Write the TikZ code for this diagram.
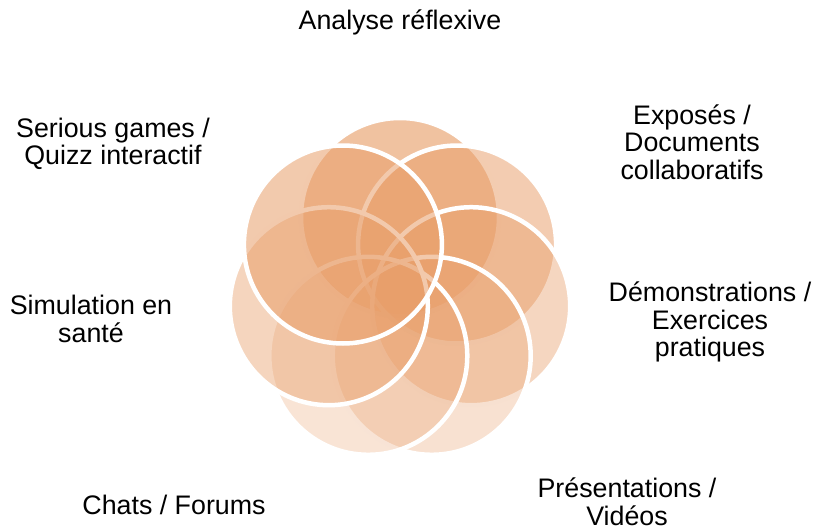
\documentclass[tikz,border=0pt]{standalone}
\usepackage{fontspec}
\setmainfont{Liberation Sans}
\definecolor{petal}{RGB}{232,158,105}

\begin{document}
\begin{tikzpicture}[x=1pt,y=-1pt,
	petal/.style={fill=petal,draw=white,line width=4.5pt},
	lbl/.style={align=center,font=\fontsize{26.8}{27.5}\selectfont}]
	\useasboundingbox (0,0) rectangle (815,530);
	% seven overlapping circles, clockwise from the top
	\path[petal,fill opacity=0.63] (400,217) circle[radius=99pt];
	\path[petal,fill opacity=0.52] (457.1,244.5) circle[radius=99pt];
	\path[petal,fill opacity=0.42] (471.2,306.2) circle[radius=99pt];
	\path[petal,fill opacity=0.31] (431.7,355.8) circle[radius=99pt];
	\path[petal,fill opacity=0.28] (368.3,355.8) circle[radius=99pt];
	\path[petal,fill opacity=0.43] (328.8,306.2) circle[radius=99pt];
	\path[petal,fill opacity=0.55] (342.9,244.5) circle[radius=99pt];
	% labels
	\node[lbl] (analyse) at (400,22) {Analyse réflexive};
	\node[lbl] (exposes) at (692,142) {Exposés /\\Documents\\collaboratifs};
	\node[lbl] (demos) at (710,322) {Démonstrations /\\Exercices\\pratiques};
	\node[lbl] (presentations) at (627,502) {Présentations /\\Vidéos};
	\node[lbl] (chats) at (174,505) {Chats / Forums};
	\node[lbl] (simulation) at (91,319) {Simulation en\\santé};
	\node[lbl] (serious) at (113,144) {Serious games /\\Quizz interactif};
\end{tikzpicture}
\end{document}
